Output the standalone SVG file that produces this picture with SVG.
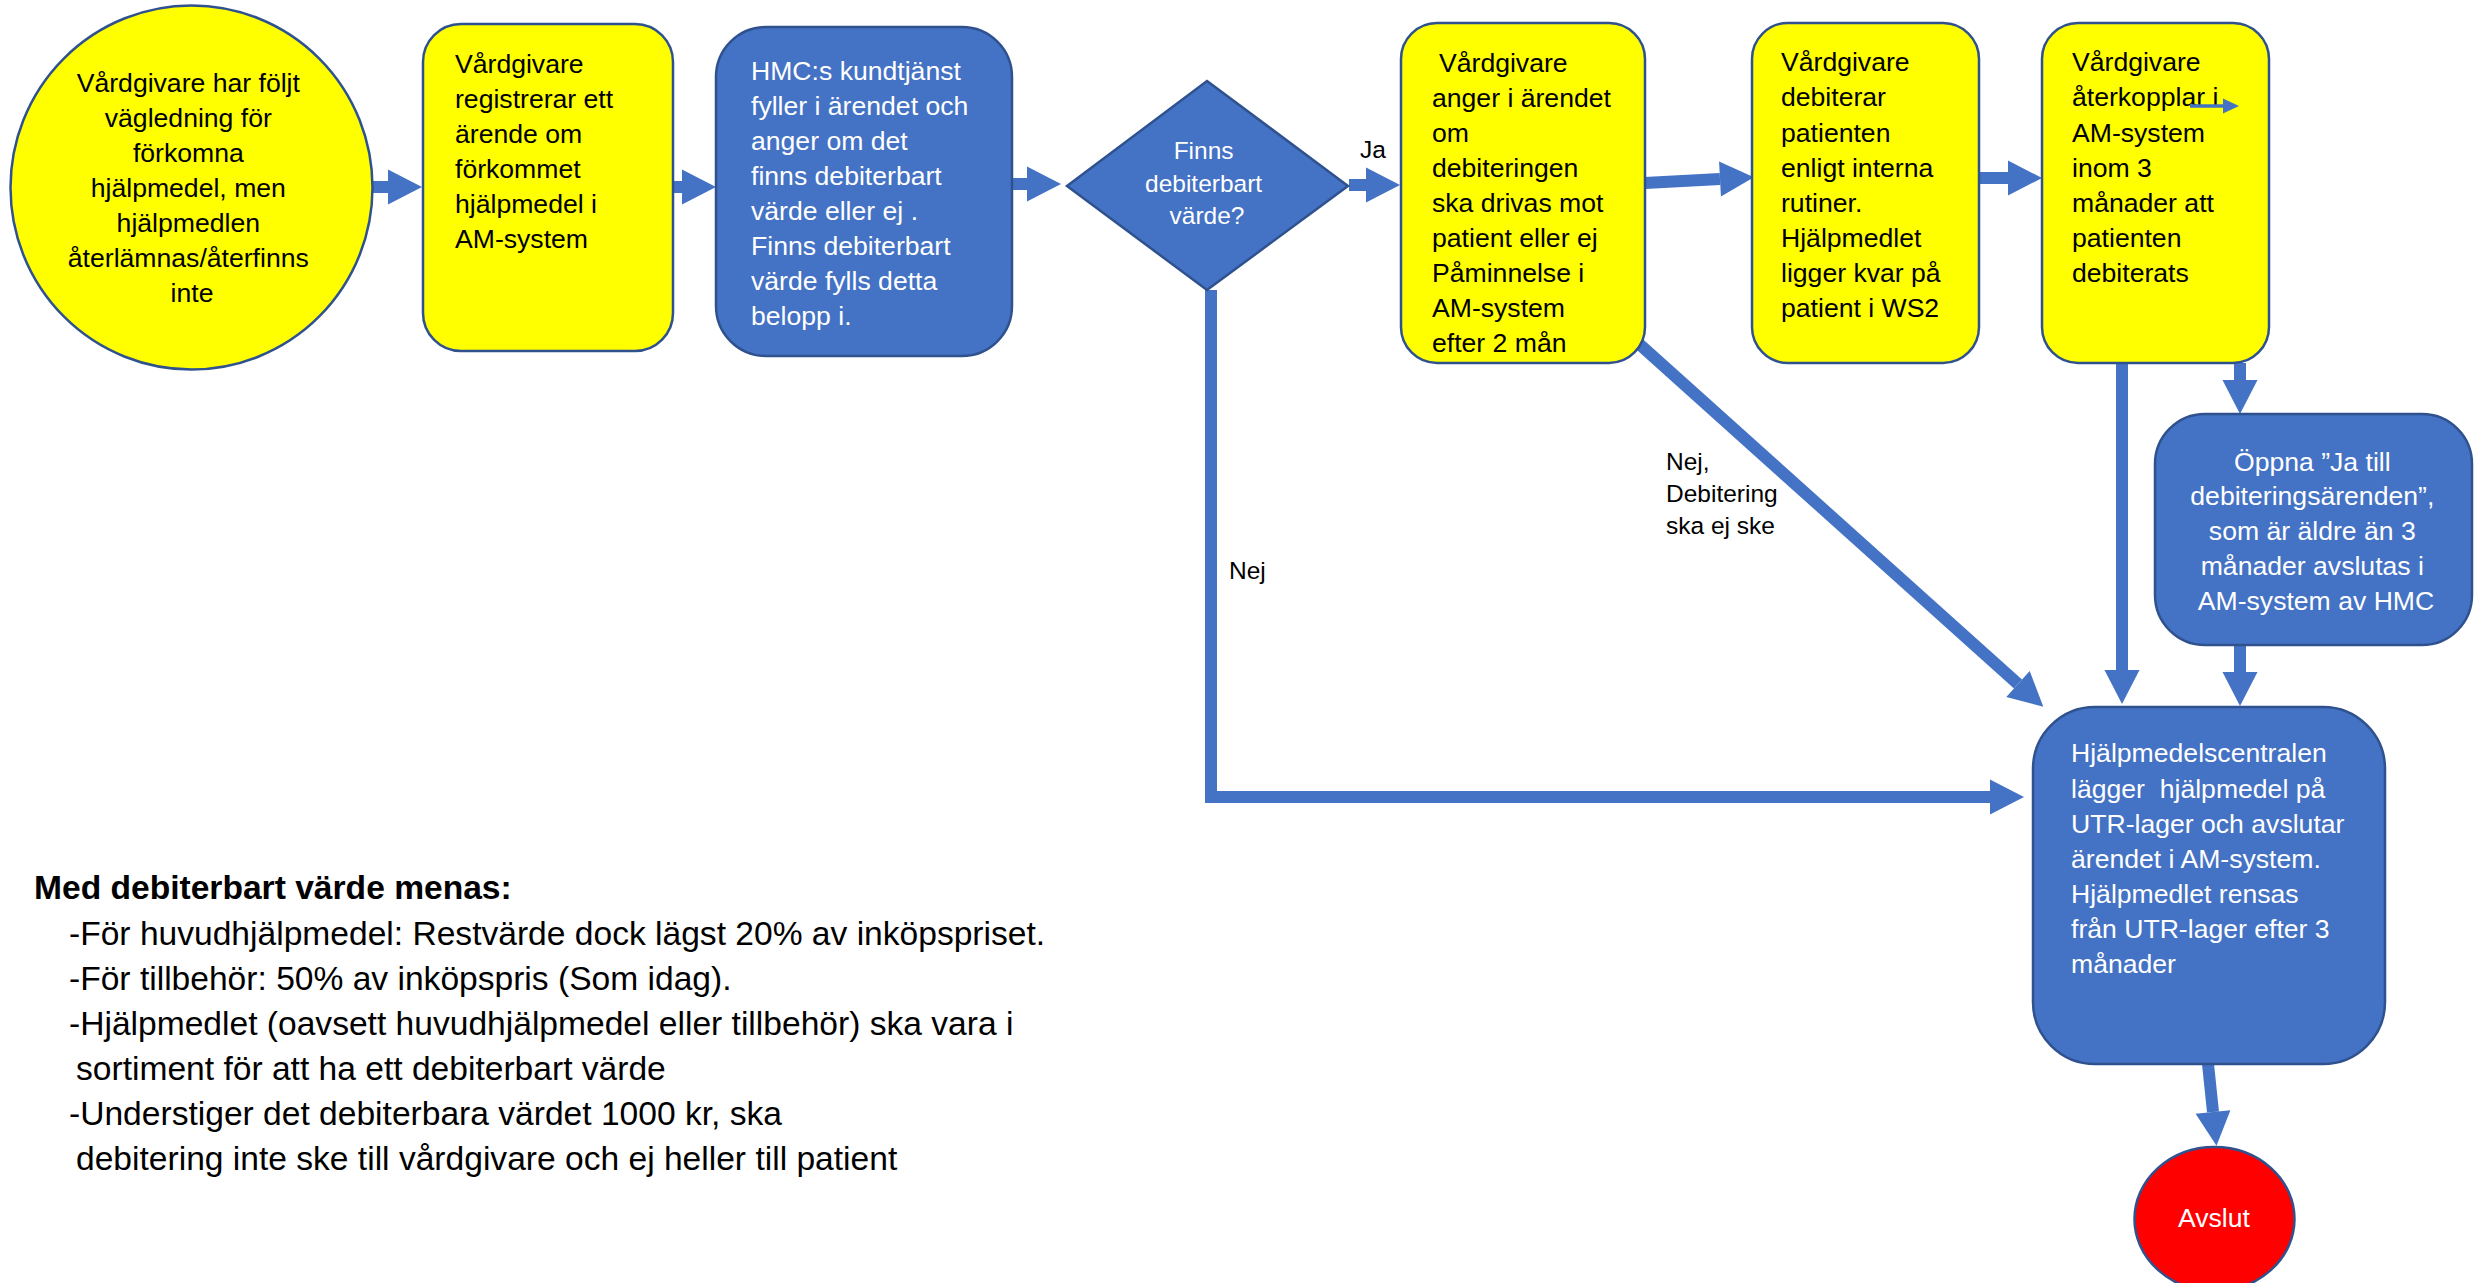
<svg xmlns="http://www.w3.org/2000/svg" width="2474" height="1283" viewBox="0 0 2474 1283">
<defs>
<style>
.y{fill:#FFFF00;stroke:#2F528F;stroke-width:2.5}
.b{fill:#4472C4;stroke:#2F528F;stroke-width:2.5}
.r{fill:#FF0000;stroke:#2F528F;stroke-width:2.5}
.t{font-family:"Liberation Sans",Arial,sans-serif;font-size:26.6px;fill:#000}
.w{font-family:"Liberation Sans",Arial,sans-serif;font-size:26.6px;fill:#FFFFFF}
.d{font-family:"Liberation Sans",Arial,sans-serif;font-size:24.5px;fill:#FFFFFF}
.l{font-family:"Liberation Sans",Arial,sans-serif;font-size:24.5px;fill:#000}
.n{font-family:"Liberation Sans",Arial,sans-serif;font-size:33.6px;fill:#000}
.c{fill:none;stroke:#4472C4;stroke-width:12;stroke-linejoin:miter;marker-end:url(#ah)}
</style>
<marker id="ah" markerUnits="userSpaceOnUse" markerWidth="36" markerHeight="36" refX="0" refY="17.5" orient="auto" overflow="visible">
<path d="M0,0 L34,17.5 L0,35 Z" fill="#4472C4"/>
</marker>
<marker id="sh" markerUnits="userSpaceOnUse" markerWidth="18" markerHeight="16" refX="0" refY="7.5" orient="auto" overflow="visible">
<path d="M0,0 L16,7.5 L0,15 Z" fill="#4472C4"/>
</marker>
</defs>
<rect width="2474" height="1283" fill="#FFFFFF"/>

<g id="connectors">
<line class="c" x1="373" y1="187" x2="388" y2="187"/>
<line class="c" x1="673" y1="187" x2="682" y2="187"/>
<line class="c" x1="1012" y1="184" x2="1027" y2="184"/>
<line class="c" x1="1349" y1="185" x2="1366" y2="185"/>
<line class="c" x1="1645" y1="183" x2="1720" y2="179"/>
<line class="c" x1="1978" y1="178" x2="2008" y2="178"/>
<polyline class="c" points="1211,290 1211,797 1990,797"/>
<line class="c" x1="1637" y1="342" x2="2018" y2="684"/>
<line class="c" x1="2122" y1="363" x2="2122" y2="670"/>
<line class="c" x1="2240" y1="363" x2="2240" y2="380"/>
<line class="c" x1="2240" y1="645" x2="2240" y2="672"/>
<line class="c" x1="2208" y1="1064" x2="2213" y2="1112"/>
</g>

<g id="n1">
<ellipse class="y" cx="191.5" cy="187.5" rx="181" ry="182"/>
<text class="t" text-anchor="middle">
<tspan x="192" y="92">Vårdgivare har följt</tspan>
<tspan x="192" y="127">vägledning för</tspan>
<tspan x="192" y="162">förkomna</tspan>
<tspan x="192" y="197">hjälpmedel, men</tspan>
<tspan x="192" y="232">hjälpmedlen</tspan>
<tspan x="192" y="267">återlämnas/återfinns</tspan>
<tspan x="192" y="302">inte</tspan>
</text>
</g>

<g id="n2">
<rect class="y" x="423" y="24" width="250" height="327" rx="38" ry="38"/>
<text class="t">
<tspan x="455" y="73">Vårdgivare</tspan>
<tspan x="455" y="108">registrerar ett</tspan>
<tspan x="455" y="143">ärende om</tspan>
<tspan x="455" y="178">förkommet</tspan>
<tspan x="455" y="213">hjälpmedel i</tspan>
<tspan x="455" y="248">AM-system</tspan>
</text>
</g>

<g id="n3">
<rect class="b" x="716" y="27" width="296" height="329" rx="50" ry="50"/>
<text class="w">
<tspan x="751" y="80">HMC:s kundtjänst</tspan>
<tspan x="751" y="115">fyller i ärendet och</tspan>
<tspan x="751" y="150">anger om det</tspan>
<tspan x="751" y="185">finns debiterbart</tspan>
<tspan x="751" y="220">värde eller ej .</tspan>
<tspan x="751" y="255">Finns debiterbart</tspan>
<tspan x="751" y="290">värde fylls detta</tspan>
<tspan x="751" y="325">belopp i.</tspan>
</text>
</g>

<g id="n4">
<polygon class="b" points="1207,81 1348,186 1207,290 1067,186"/>
<text class="d" text-anchor="middle">
<tspan x="1207" y="159">Finns</tspan>
<tspan x="1207" y="192">debiterbart</tspan>
<tspan x="1207" y="224">värde?</tspan>
</text>
</g>

<g id="n5">
<rect class="y" x="1401" y="23" width="244" height="340" rx="36" ry="36"/>
<text class="t">
<tspan x="1439" y="72">Vårdgivare</tspan>
<tspan x="1432" y="107">anger i ärendet</tspan>
<tspan x="1432" y="142">om</tspan>
<tspan x="1432" y="177">debiteringen</tspan>
<tspan x="1432" y="212">ska drivas mot</tspan>
<tspan x="1432" y="247">patient eller ej</tspan>
<tspan x="1432" y="282">Påminnelse i</tspan>
<tspan x="1432" y="317">AM-system</tspan>
<tspan x="1432" y="352">efter 2 mån</tspan>
</text>
</g>

<g id="n6">
<rect class="y" x="1752" y="23" width="227" height="340" rx="36" ry="36"/>
<text class="t">
<tspan x="1781" y="71">Vårdgivare</tspan>
<tspan x="1781" y="106">debiterar</tspan>
<tspan x="1781" y="142">patienten</tspan>
<tspan x="1781" y="177">enligt interna</tspan>
<tspan x="1781" y="212">rutiner.</tspan>
<tspan x="1781" y="247">Hjälpmedlet</tspan>
<tspan x="1781" y="282">ligger kvar på</tspan>
<tspan x="1781" y="317">patient i WS2</tspan>
</text>
</g>

<g id="n7">
<rect class="y" x="2042" y="23" width="227" height="340" rx="36" ry="36"/>
<text class="t">
<tspan x="2072" y="71">Vårdgivare</tspan>
<tspan x="2072" y="106">återkopplar i</tspan>
<tspan x="2072" y="142">AM-system</tspan>
<tspan x="2072" y="177">inom 3</tspan>
<tspan x="2072" y="212">månader att</tspan>
<tspan x="2072" y="247">patienten</tspan>
<tspan x="2072" y="282">debiterats</tspan>
</text>
<line x1="2190" y1="106" x2="2223" y2="106" stroke="#4472C4" stroke-width="3.5" marker-end="url(#sh)"/>
</g>

<g id="n8">
<rect class="b" x="2155" y="414" width="317" height="231" rx="50" ry="50"/>
<text class="w" text-anchor="middle">
<tspan x="2316" y="471">Öppna ”Ja till</tspan>
<tspan x="2316" y="505">debiteringsärenden”,</tspan>
<tspan x="2316" y="540">som är äldre än 3</tspan>
<tspan x="2316" y="575">månader avslutas i</tspan>
<tspan x="2316" y="610">AM-system av HMC</tspan>
</text>
</g>

<g id="n9">
<rect class="b" x="2033" y="707" width="352" height="357" rx="62" ry="62"/>
<text class="w" xml:space="preserve"><tspan x="2071" y="762">Hjälpmedelscentralen</tspan><tspan x="2071" y="798">lägger  hjälpmedel på</tspan><tspan x="2071" y="833">UTR-lager och avslutar</tspan><tspan x="2071" y="868">ärendet i AM-system.</tspan><tspan x="2071" y="903">Hjälpmedlet rensas</tspan><tspan x="2071" y="938">från UTR-lager efter 3</tspan><tspan x="2071" y="973">månader</tspan></text>
</g>

<g id="n10">
<ellipse class="r" cx="2214.5" cy="1219" rx="80" ry="72"/>
<text class="w" x="2214" y="1227" text-anchor="middle">Avslut</text>
</g>

<g id="labels">
<text class="l" x="1360" y="158">Ja</text>
<text class="l" x="1229" y="579">Nej</text>
<text class="l">
<tspan x="1666" y="470">Nej,</tspan>
<tspan x="1666" y="502">Debitering</tspan>
<tspan x="1666" y="534">ska ej ske</tspan>
</text>
</g>

<g id="note">
<text class="n" x="34" y="899" font-weight="bold">Med debiterbart värde menas:</text>
<text class="n">
<tspan x="69" y="945">-För huvudhjälpmedel: Restvärde dock lägst 20% av inköpspriset.</tspan>
<tspan x="69" y="990">-För tillbehör: 50% av inköpspris (Som idag).</tspan>
<tspan x="69" y="1035">-Hjälpmedlet (oavsett huvudhjälpmedel eller tillbehör) ska vara i</tspan>
<tspan x="76" y="1080">sortiment för att ha ett debiterbart värde</tspan>
<tspan x="69" y="1125">-Understiger det debiterbara värdet 1000 kr, ska</tspan>
<tspan x="76" y="1170">debitering inte ske till vårdgivare och ej heller till patient</tspan>
</text>
</g>
</svg>
